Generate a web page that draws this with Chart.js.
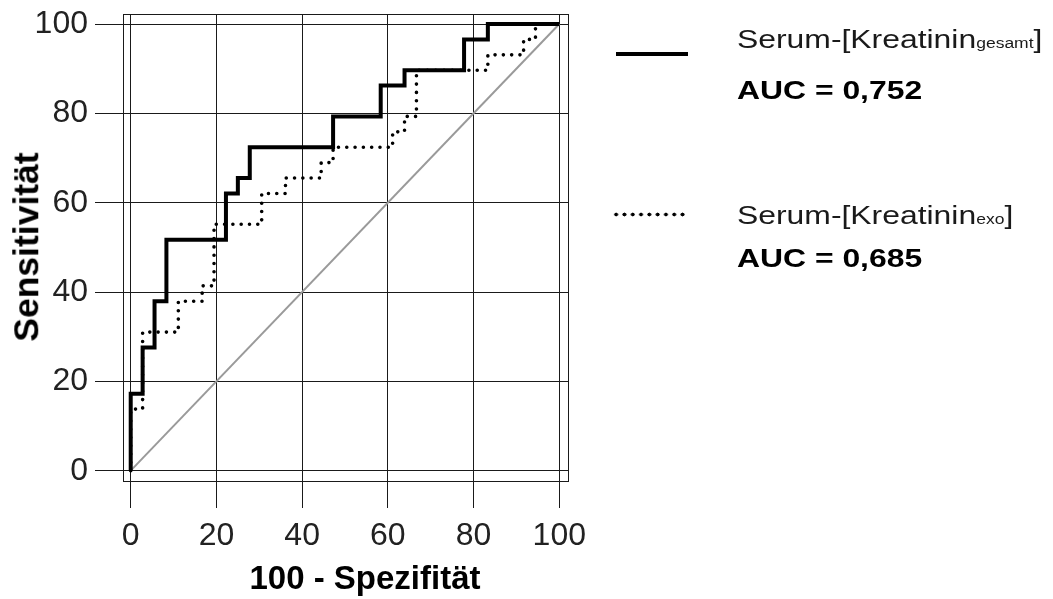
<!DOCTYPE html>
<html>
<head>
<meta charset="utf-8">
<script src="https://cdn.jsdelivr.net/npm/chart.js@4.4.1/dist/chart.umd.min.js"></script>
<style>
  body { margin: 0; background: #fff; }
  #wrap { position: relative; width: 1053px; height: 599px; overflow: hidden; }
  #roc { position: absolute; left: 0; top: 0; }
  .txt { position: absolute; font-family: "Liberation Sans", Arial, sans-serif; color: #000; line-height: 1; white-space: nowrap; }
  .leg { font-size: 25.5px; color: #1a1a1a; transform: scaleX(1.25); transform-origin: 0 0; }
  .leg small { font-size: 14px; }
  .bold { font-weight: bold; color: #000; }
  .sample-solid { position: absolute; left: 616px; top: 52px; width: 72px; height: 4px; background: #000; }
  .sample-dot { position: absolute; left: 612px; top: 212px; width: 75px; height: 5px;
    background: radial-gradient(circle, #000 1.7px, transparent 2.2px) 0 0 / 8.3px 5px repeat-x; }
</style>
</head>
<body>
<div id="wrap">
  <canvas id="roc" width="1053" height="599"></canvas>
  <div class="txt bold" style="left:365px; top:561px; font-size:33px; transform: translateX(-50%);">100 - Spezifität</div>
  <div class="txt bold" style="left:27px; top:247px; font-size:35.5px; transform: translate(-50%, -50%) rotate(-90deg);">Sensitivität</div>

  <div class="sample-solid"></div>
  <div class="txt leg" style="left:737px; top:27px;">Serum-[Kreatinin<small>gesamt</small>]</div>
  <div class="txt leg bold" style="left:737px; top:78px;">AUC = 0,752</div>

  <div class="sample-dot"></div>
  <div class="txt leg" style="left:737px; top:203px;">Serum-[Kreatinin<small>exo</small>]</div>
  <div class="txt leg bold" style="left:737px; top:246px;">AUC = 0,685</div>
</div>
<script>
// ROC points (100 - Spezifität, Sensitivität), corners of the step curves
const fprGesamt = [0, 0, 2.78, 5.56, 8.33, 22.22, 25.00, 27.78, 47.22, 58.33, 63.89, 77.78, 83.33, 100];
const sensGesamt = [0, 17.24, 27.59, 37.93, 51.72, 62.07, 65.52, 72.41, 79.31, 86.21, 89.66, 96.55, 100, 100];

const fprExo = [0, 0, 2.78, 11.11, 16.67, 19.44, 30.56, 36.11, 44.44, 47.22, 61.11, 63.89, 66.67, 83.33, 91.67, 94.44, 100];
const sensExo = [0, 13.79, 31.03, 37.93, 41.38, 55.17, 62.07, 65.52, 68.97, 72.41, 75.86, 79.31, 89.66, 93.10, 96.55, 100, 100];

const refX = [0, 100];
const refY = [0, 100];

const xTicks = [0, 20, 40, 60, 80, 100];
const yTicks = [0, 20, 40, 60, 80, 100];

const gridColor = '#1a1a1a';
const tickFont = { family: '"Liberation Sans", Arial, sans-serif', size: 32 };

function toPoints(xs, ys) {
    return xs.map((x, i) => ({ x: x, y: ys[i] }));
}

// box round the plot area
const framePlugin = {
    id: 'frame',
    afterDatasetsDraw(chart) {
        const a = chart.chartArea;
        const ctx = chart.ctx;
        ctx.save();
        ctx.strokeStyle = gridColor;
        ctx.lineWidth = 1;
        ctx.strokeRect(Math.round(a.left) + 0.5, Math.round(a.top) + 0.5,
            Math.round(a.right - a.left), Math.round(a.bottom - a.top));
        ctx.restore();
    }
};

const ctx = document.getElementById('roc').getContext('2d');
new Chart(ctx, {
    type: 'line',
    data: {
        datasets: [
            {
                label: 'Serum-[Kreatinin gesamt]',
                data: toPoints(fprGesamt, sensGesamt),
                borderColor: '#000',
                borderWidth: 4,
                stepped: true,
                pointRadius: 0,
                fill: false
            },
            {
                label: 'Serum-[Kreatinin exo]',
                data: toPoints(fprExo, sensExo),
                borderColor: '#000',
                borderWidth: 3.6,
                borderDash: [0, 8.3],
                borderCapStyle: 'round',
                stepped: true,
                pointRadius: 0,
                fill: false
            },
            {
                label: 'Referenz',
                data: toPoints(refX, refY),
                borderColor: '#9a9a9a',
                borderWidth: 2,
                pointRadius: 0,
                fill: false
            }
        ]
    },
    options: {
        responsive: false,
        animation: false,
        devicePixelRatio: 1,
        layout: { padding: { left: 0, top: 14, right: 485, bottom: 0 } },
        plugins: {
            legend: { display: false },
            tooltip: { enabled: false }
        },
        scales: {
            x: {
                type: 'linear',
                position: 'bottom',
                min: -1.8,
                max: 102.03,
                afterBuildTicks: s => { s.ticks = xTicks.map(v => ({ value: v })); },
                afterFit: s => { s.height = 118; s.paddingLeft = 0; s.paddingRight = 0; },
                ticks: { font: tickFont, color: '#222', padding: 9, maxRotation: 0, autoSkip: false },
                grid: { color: gridColor, lineWidth: 1, tickLength: 27 },
                border: { display: true, color: gridColor, width: 1 }
            },
            y: {
                type: 'linear',
                min: -2.31,
                max: 102.24,
                afterBuildTicks: s => { s.ticks = yTicks.map(v => ({ value: v })); },
                afterFit: s => { s.width = 123; s.paddingTop = 0; s.paddingBottom = 0; },
                ticks: { font: tickFont, color: '#222', padding: 7, autoSkip: false },
                grid: { color: gridColor, lineWidth: 1, tickLength: 28 },
                border: { display: true, color: gridColor, width: 1 }
            }
        }
    },
    plugins: [framePlugin]
});
</script>
</body>
</html>
